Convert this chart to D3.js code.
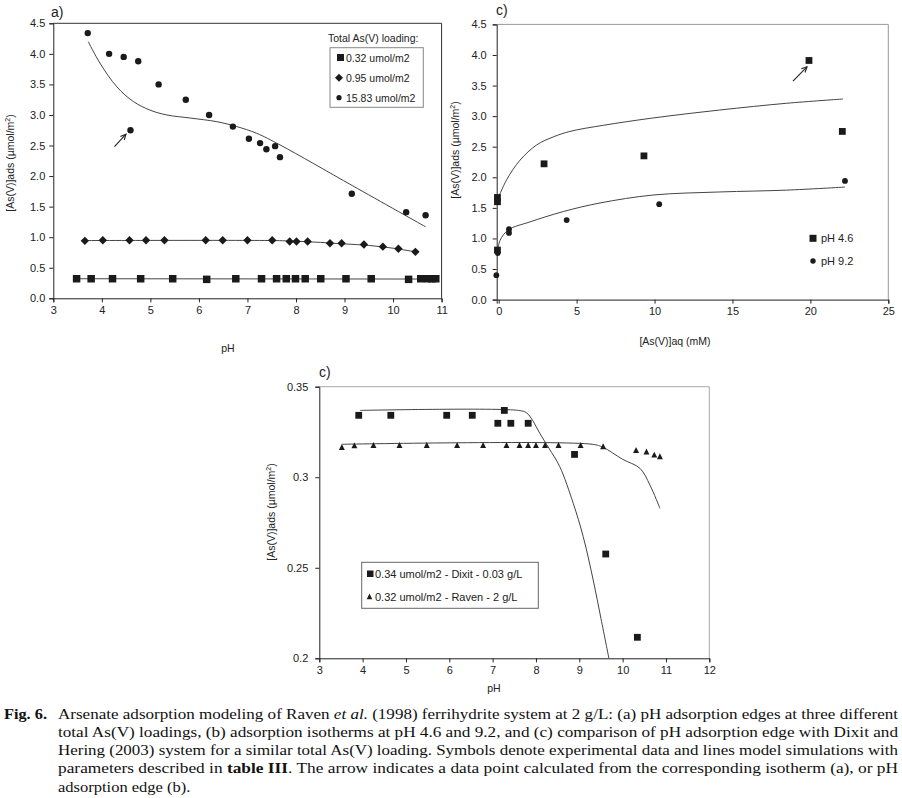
<!DOCTYPE html>
<html><head><meta charset="utf-8">
<script src="https://cdn.jsdelivr.net/npm/d3@7"></script>
<style>body{margin:0;background:#fff}svg{display:block}</style>
</head><body>
<svg id="chart" width="902" height="798"></svg>
<script>
// ---------- Panel a) data ----------
const aSqPH  = [3.48,3.78,4.22,4.80,5.46,6.16,6.76,7.29,7.60,7.80,7.99,8.19,8.51,9.03,9.55,10.32,10.57,10.71,10.80,10.88];
const aSqVal = [0.32,0.32,0.32,0.32,0.32,0.31,0.32,0.32,0.32,0.32,0.32,0.32,0.32,0.32,0.32,0.31,0.32,0.32,0.32,0.32];
const aDiPH  = [3.65,4.02,4.57,4.91,5.29,6.14,6.49,7.00,7.51,7.87,8.01,8.24,8.70,8.94,9.40,9.79,10.11,10.46];
const aDiVal = [0.94,0.95,0.95,0.95,0.95,0.95,0.95,0.95,0.95,0.93,0.93,0.93,0.90,0.90,0.88,0.845,0.81,0.76];
const aCiPH  = [3.71,4.15,4.45,4.75,5.17,5.73,6.21,4.59,6.70,7.03,7.26,7.39,7.57,7.67,9.15,10.27,10.67];
const aCiVal = [4.34,4.00,3.95,3.88,3.50,3.25,3.00,2.75,2.81,2.61,2.54,2.44,2.49,2.31,1.71,1.41,1.36];
const aSqModelPH  = [3.48,10.88];
const aSqModelVal = [0.32,0.315];
const aDiModelPH  = [3.65,7.5,8.0,8.5,9.0,9.5,10.0,10.46];
const aDiModelVal = [0.945,0.945,0.935,0.915,0.89,0.865,0.82,0.76];
const aCiModelPH  = [3.72,3.96,4.31,4.65,4.99,5.34,5.82,6.37,6.78,7.19,7.67,9.17,10.67];
const aCiModelVal = [4.20,3.85,3.46,3.22,3.08,3.00,2.95,2.89,2.81,2.70,2.51,1.84,1.17];
const aArrowPoint = [4.59,2.75];
const aLegendLabels = ["0.32 umol/m2","0.95 umol/m2","15.83 umol/m2"];

// ---------- Panel (top right) data ----------
const bSqAq  = [-0.08,-0.08,-0.08,2.91,9.32,19.91,22.05];
const bSqVal = [0.81,1.60,1.67,2.22,2.35,3.91,2.75];
const bCiAq  = [-0.15,-0.06,0.66,0.66,4.36,10.30,22.22];
const bCiVal = [0.40,0.76,1.09,1.15,1.30,1.56,1.94];
const bModel46Aq  = [-0.08,0.51,1.37,2.44,3.5,4.57,6.71,9.91,14.19,18.46,22.09];
const bModel46Val = [1.63,1.96,2.28,2.53,2.66,2.75,2.85,2.97,3.10,3.21,3.28];
const bModel92Aq  = [-0.08,0.09,0.62,2.0,4.15,6.5,9.91,14.19,18.46,22.22];
const bModel92Val = [0.78,0.97,1.14,1.27,1.44,1.58,1.71,1.76,1.79,1.84];
const bArrowPoint = [19.91,3.91];
const bLegendLabels = ["pH 4.6","pH 9.2"];

// ---------- Panel (bottom) data ----------
const cDixPH  = [3.91,4.65,5.94,6.53,7.27,7.12,7.42,7.82,8.89,9.61,10.34];
const cDixVal = [0.3342,0.3342,0.3342,0.3342,0.3369,0.3298,0.3298,0.3298,0.3126,0.2576,0.2116];
const cRavPH  = [3.52,3.81,4.25,4.85,5.48,6.18,6.78,7.32,7.62,7.82,8.00,8.21,8.52,9.03,9.55,10.31,10.55,10.73,10.86];
const cRavVal = [0.3165,0.3174,0.3176,0.3176,0.3176,0.3176,0.3176,0.3176,0.3176,0.3176,0.3176,0.3176,0.3176,0.3176,0.3169,0.3149,0.3140,0.3123,0.3114];
const cDixModelPH  = [3.94,7.6,7.78,7.92,8.09,8.3,8.55,8.86,9.09,9.32,9.5,9.7];
const cDixModelVal = [0.3369,0.3369,0.3356,0.3315,0.3242,0.316,0.3058,0.2856,0.2672,0.2433,0.222,0.198];
const cRavModelPH  = [3.52,9.3,9.55,10.0,10.4,10.63,10.86];
const cRavModelVal = [0.3182,0.3182,0.3165,0.3099,0.3049,0.2957,0.2828];
const cLegendLabels = ["0.34 umol/m2 - Dixit - 0.03 g/L","0.32 umol/m2 - Raven - 2 g/L"];

// ---------- tick values ----------
const aXTicks = d3.range(3,12,1);
const aYTicks = [0,0.5,1,1.5,2,2.5,3,3.5,4,4.5];
const bXTicks = [0,5,10,15,20,25];
const bYTicks = aYTicks;
const cXTicks = d3.range(3,13,1);
const cYTicks = [0.2,0.25,0.3,0.35];

// ---------- caption ----------
const captionLines = [
  [{t:"Arsenate adsorption modeling of Raven "},{t:"et al.",i:1},{t:" (1998) ferrihydrite system at 2 g/L: (a) pH adsorption edges at three different"}],
  [{t:"total As(V) loadings, (b) adsorption isotherms at pH 4.6 and 9.2, and (c) comparison of pH adsorption edge with Dixit and"}],
  [{t:"Hering (2003) system for a similar total As(V) loading. Symbols denote experimental data and lines model simulations with"}],
  [{t:"parameters described in "},{t:"table III",b:1},{t:". The arrow indicates a data point calculated from the corresponding isotherm (a), or pH"}],
  [{t:"adsorption edge (b)."}]
];

const SANS = "'Liberation Sans', Arial, sans-serif";
const INK = "#1a1a1a";
const svg = d3.select("#chart");
svg.append("rect").attr("width",902).attr("height",798).attr("fill","#fff");

function zip(a,b){return a.map((v,i)=>[v,b[i]]);}

function panel(opt){
  const {x,y,xTicks,yTicks,yFmt,edge,id} = opt;
  const g = svg.append("g");
  const [x0,x1] = x.range(), [y0,y1] = y.range();
  svg.append("clipPath").attr("id",id).append("rect")
     .attr("x",x0).attr("y",y1).attr("width",x1-x0).attr("height",y0-y1);
  g.append("path").attr("d",`M${x0},${y1}H${x1}V${y0}`).attr("fill","none")
    .attr("stroke",edge).attr("stroke-width",1);
  const ax = g.append("g").attr("transform",`translate(0,${y0})`)
    .call(d3.axisBottom(x).tickValues(xTicks).tickSize(4).tickPadding(4).tickFormat(d3.format("d")));
  const ay = g.append("g").attr("transform",`translate(${x0},0)`)
    .call(d3.axisLeft(y).tickValues(yTicks).tickSize(4).tickPadding(opt.yPad||4).tickFormat(yFmt));
  [ax,ay].forEach(a=>{
    a.selectAll("path,line").attr("stroke","#222");
    a.selectAll("text").attr("font-family",SANS).attr("font-size",11).attr("fill","#222");
  });
  const plot = g.append("g").attr("clip-path",`url(#${id})`);
  return {g,plot};
}
function curve(plot,x,y,data){
  plot.append("path").datum(data)
    .attr("d",d3.line().x(d=>x(d[0])).y(d=>y(d[1])).curve(d3.curveCatmullRom.alpha(0.5)))
    .attr("fill","none").attr("stroke","#444").attr("stroke-width",1);
}
function squares(g,x,y,data,s){
  g.selectAll(null).data(data).enter().append("rect")
    .attr("x",d=>x(d[0])-s/2).attr("y",d=>y(d[1])-s/2).attr("width",s).attr("height",s).attr("fill",INK);
}
function circles(g,x,y,data,r){
  g.selectAll(null).data(data).enter().append("circle")
    .attr("cx",d=>x(d[0])).attr("cy",d=>y(d[1])).attr("r",r).attr("fill",INK);
}
function diamonds(g,x,y,data,h){
  g.selectAll(null).data(data).enter().append("path")
    .attr("d",d=>{const cx=x(d[0]),cy=y(d[1]);return `M${cx},${cy-h}L${cx+h},${cy}L${cx},${cy+h}L${cx-h},${cy}Z`;})
    .attr("fill",INK);
}
function triangles(g,x,y,data,h){
  g.selectAll(null).data(data).enter().append("path")
    .attr("d",d=>{const cx=x(d[0]),cy=y(d[1]);return `M${cx},${cy-h}L${cx+h*0.9},${cy+h*0.8}L${cx-h*0.9},${cy+h*0.8}Z`;})
    .attr("fill",INK);
}
function label(t,x,y,size,opts={}){
  const el = svg.append("text").attr("x",x).attr("y",y).attr("font-family",SANS)
    .attr("font-size",size).attr("fill","#222").attr("text-anchor",opts.anchor||"start").text(t);
  return el;
}
function yLabel(x,y){
  const el = svg.append("text").attr("x",x).attr("y",y).attr("font-family",SANS).attr("font-size",10.5)
    .attr("fill","#222").attr("text-anchor","middle").attr("transform",`rotate(-90,${x},${y})`);
  el.append("tspan").text("[As(V)]ads (µmol/m");
  el.append("tspan").attr("font-size",7).attr("dy",-4).text("2");
  el.append("tspan").attr("dy",4).text(")");
}
function arrow(px,py,dxTip,dyTip,dxTail,dyTail){
  const tx=px+dxTip, ty=py+dyTip, sx=px+dxTail, sy=py+dyTail;
  svg.append("line").attr("x1",sx).attr("y1",sy).attr("x2",tx).attr("y2",ty).attr("stroke","#222").attr("stroke-width",1.1);
  const ang=Math.atan2(ty-sy,tx-sx), L=6, w=0.45;
  const p1=[tx-L*Math.cos(ang-w),ty-L*Math.sin(ang-w)], p2=[tx-L*Math.cos(ang+w),ty-L*Math.sin(ang+w)];
  svg.append("path").attr("d",`M${p1}L${tx},${ty}L${p2}`).attr("fill","none").attr("stroke","#222").attr("stroke-width",1.1);
}

// ================= Panel a =================
{
  const x = d3.scaleLinear().domain([3,11]).range([53.3,441.6]);
  const y = d3.scaleLinear().domain([0,4.5]).range([298.3,23.3]);
  const {plot} = panel({x,y,xTicks:aXTicks,yTicks:aYTicks,yFmt:d3.format(".1f"),edge:"#333",id:"clipA"});
  curve(plot,x,y,zip(aSqModelPH,aSqModelVal));
  curve(plot,x,y,zip(aDiModelPH,aDiModelVal));
  curve(plot,x,y,zip(aCiModelPH,aCiModelVal));
  squares(svg,x,y,zip(aSqPH,aSqVal),7.5);
  diamonds(svg,x,y,zip(aDiPH,aDiVal),4.2);
  circles(svg,x,y,zip(aCiPH,aCiVal),3.2);
  arrow(x(aArrowPoint[0]),y(aArrowPoint[1]),-4.5,4,-16,16.5);
  label("a)",51,17,14);
  yLabel(14,163);
  label("pH",228,352,10.5,{anchor:"middle"});
  label("Total As(V) loading:",328,41.5,10.5);
  svg.append("rect").attr("x",330).attr("y",47.7).attr("width",93.3).attr("height",59.6)
    .attr("fill","#fff").attr("stroke","#888");
  const ly=[57.5,77.7,97.7];
  svg.append("rect").attr("x",337).attr("y",ly[0]-3.5).attr("width",7).attr("height",7).attr("fill",INK);
  svg.append("path").attr("d",`M339,${ly[1]-4}L343,${ly[1]}L339,${ly[1]+4}L335,${ly[1]}Z`).attr("fill",INK);
  svg.append("circle").attr("cx",339).attr("cy",ly[2]).attr("r",2.6).attr("fill",INK);
  aLegendLabels.forEach((t,i)=>label(t,346,ly[i]+4,10.5));
}

// ================= Panel top right =================
{
  const x = d3.scaleLinear().domain([-0.128,25]).range([496.7,888.3]);
  const y = d3.scaleLinear().domain([0,4.5]).range([299.6,24.4]);
  const {plot} = panel({x,y,xTicks:bXTicks,yTicks:bYTicks,yFmt:d3.format(".1f"),edge:"#999",id:"clipB",yPad:6});
  curve(plot,x,y,zip(bModel46Aq,bModel46Val));
  curve(plot,x,y,zip(bModel92Aq,bModel92Val));
  squares(svg,x,y,zip(bSqAq,bSqVal),6.8);
  circles(svg,x,y,zip(bCiAq,bCiVal),2.9);
  arrow(x(bArrowPoint[0]),y(bArrowPoint[1]),-2,6.3,-16,20.6);
  label("c)",496,15,14);
  yLabel(459,150);
  label("[As(V)]aq (mM)",675,345,10.5,{anchor:"middle"});
  svg.append("rect").attr("x",809.5).attr("y",234.8).attr("width",7).attr("height",7).attr("fill",INK);
  svg.append("circle").attr("cx",813).attr("cy",261).attr("r",2.7).attr("fill",INK);
  bLegendLabels.forEach((t,i)=>label(t,821,[238.3,261][i]+4,11));
}

// ================= Panel bottom =================
{
  const x = d3.scaleLinear().domain([3,12]).range([319.3,709.3]);
  const y = d3.scaleLinear().domain([0.2,0.35]).range([658.3,386.7]);
  const {plot} = panel({x,y,xTicks:cXTicks,yTicks:cYTicks,yFmt:d=>String(+d.toFixed(2)),edge:"#aaa",id:"clipC",yPad:7});
  curve(plot,x,y,zip(cDixModelPH,cDixModelVal));
  curve(plot,x,y,zip(cRavModelPH,cRavModelVal));
  squares(svg,x,y,zip(cDixPH,cDixVal),6.8);
  triangles(svg,x,y,zip(cRavPH,cRavVal),3.3);
  label("c)",319,377,14);
  yLabel(275,512);
  label("pH",494,692,10.5,{anchor:"middle"});
  svg.append("rect").attr("x",361.7).attr("y",562.3).attr("width",176.6).attr("height",46)
    .attr("fill","#fff").attr("stroke","#666");
  svg.append("rect").attr("x",367).attr("y",570.5).attr("width",6.5).attr("height",6.5).attr("fill",INK);
  svg.append("path").attr("d","M369.5,593.5L372.3,599.2L366.7,599.2Z").attr("fill",INK);
  cLegendLabels.forEach((t,i)=>label(t,375,[574,596.7][i]+4,11));
}

// ================= Caption =================
{
  const SERIF = "'Liberation Serif','Times New Roman',serif";
  const base = [718.5,736.8,755.1,773.4,791.7];
  const fig = svg.append("text").attr("x",4).attr("y",base[0]).attr("font-family",SERIF).attr("font-size",15)
    .attr("font-weight","bold").attr("fill","#111").text("Fig. 6.");
  fig.attr("textLength",43).attr("lengthAdjust","spacingAndGlyphs");
  const widths = [];
  captionLines.forEach((parts,i)=>{
    const t = svg.append("text").attr("x",58).attr("y",base[i]).attr("font-family",SERIF)
      .attr("font-size",15).attr("fill","#111");
    parts.forEach(p=>{
      const s=t.append("tspan").text(p.t);
      if(p.i) s.attr("font-style","italic");
      if(p.b) s.attr("font-weight","bold");
    });
    const len = t.node().getComputedTextLength();
    widths.push(len);
    if(i<captionLines.length-1){
      t.attr("textLength",898-58).attr("lengthAdjust","spacingAndGlyphs");
    } else {
      // stretch last line by the same average factor as the justified lines
      const f = (898-58)/d3.mean(widths.slice(0,4).length?widths:[len]);
      t.attr("textLength",len*Math.min(f,1.1)).attr("lengthAdjust","spacingAndGlyphs");
    }
  });
}
</script>
</body></html>
